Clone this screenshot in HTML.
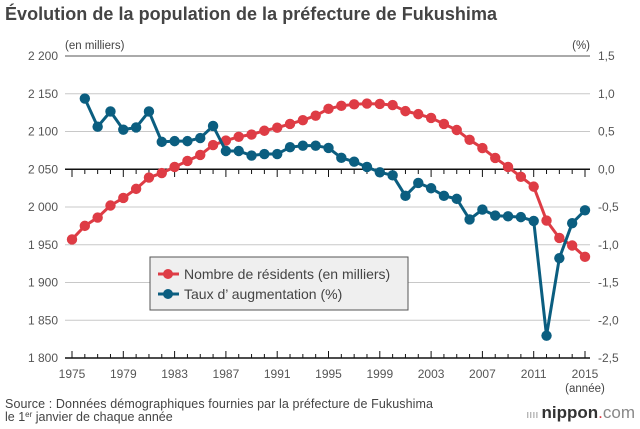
<!DOCTYPE html>
<html><head><meta charset="utf-8"><style>
body{margin:0;background:#fff;width:640px;height:424px;overflow:hidden;font-family:"Liberation Sans",sans-serif}
</style></head><body>
<svg width="640" height="424" style="font-family:'Liberation Sans',sans-serif">
<text x="5" y="20" font-size="18" font-weight="bold" fill="#444" textLength="492">Évolution de la population de la préfecture de Fukushima</text>
<g id="grid"></g><g id="series"></g>
<text x="65" y="49" font-size="11.5" fill="#444">(en milliers)</text>
<text x="590" y="49" font-size="11.5" fill="#444" text-anchor="end">(%)</text>
<text x="585" y="392" font-size="11.5" fill="#444" text-anchor="middle">(année)</text>
<g>
<rect x="150" y="257" width="258" height="53" fill="#efefef" stroke="#555" stroke-width="1"/>
<line x1="158" y1="274" x2="179" y2="274" stroke="#de3c45" stroke-width="3"/><circle cx="168" cy="274" r="5" fill="#de3c45"/>
<text x="184" y="279" font-size="14" fill="#444">Nombre de résidents (en milliers)</text>
<line x1="158" y1="294" x2="179" y2="294" stroke="#0b5e80" stroke-width="3"/><circle cx="168" cy="294" r="5" fill="#0b5e80"/>
<text x="184" y="299" font-size="14" fill="#444">Taux d’  augmentation (%)</text>
</g>
<text x="5" y="408" font-size="12.5" fill="#444" textLength="428">Source : Données démographiques fournies par la préfecture de Fukushima</text>
<text x="5" y="421" font-size="12.5" fill="#444">le 1<tspan font-size="8" dy="-4">er</tspan><tspan dy="4"> janvier de chaque année</tspan></text>
<text x="635" y="418" font-size="17" fill="#333" text-anchor="end"><tspan fill="#999" font-size="11">ıııı </tspan><tspan font-weight="bold">nippon</tspan><tspan fill="#de3c45">.</tspan><tspan fill="#888">com</tspan></text>
</svg>
<script>
const years=[];for(let y=1975;y<=2015;y++)years.push(y);
const residents=[1957,1975,1986,2002,2012,2024,2039,2045,2053,2061,2069,2082,2088,2093,2096,2101,2105,2110,2115,2121,2130,2134,2136,2137,2136.5,2135,2127,2123,2118,2110,2102,2089,2078,2065,2053,2040,2027,1982,1959,1949,1934];
const rateYears=years.slice(1);
const rates=[0.94,0.57,0.77,0.53,0.56,0.77,0.37,0.38,0.38,0.42,0.58,0.25,0.25,0.19,0.21,0.21,0.30,0.32,0.32,0.29,0.16,0.11,0.04,-0.03,-0.07,-0.34,-0.17,-0.24,-0.34,-0.38,-0.65,-0.52,-0.60,-0.61,-0.62,-0.67,-2.18,-1.16,-0.70,-0.53];
const leftTicks=[1800,1850,1900,1950,2000,2050,2100,2150,2200];
const leftLabels=["1 800","1 850","1 900","1 950","2 000","2 050","2 100","2 150","2 200"];
const rightLabels=["-2,5","-2,0","-1,5","-1,0","-0,5","0,0","0,5","1,0","1,5"];
const xLabels=[1975,1979,1983,1987,1991,1995,1999,2003,2007,2011,2015];
const X=y=>72+(y-1975)*(513/40);
const YL=v=>358-(v-1800)*(302/400);
const YR=v=>170-v*(114/1.5);
const NS="http://www.w3.org/2000/svg";
function mk(p,t,a){const e=document.createElementNS(NS,t);for(const k in a)e.setAttribute(k,a[k]);p.appendChild(e);return e;}
const g=document.getElementById('grid'),s=document.getElementById('series');
leftTicks.forEach((v,i)=>{const y=YL(v);
 const l=mk(g,'line',{x1:65,x2:590,y1:y,y2:y,stroke:(v==1800||v==2050)?'#111':(v==2200?'#555':'#c8c8c8'),'stroke-width':(v==1800||v==2050)?1.5:1});
 
 
 const t=mk(g,'text',{x:58,y:y+4,'font-size':12,fill:'#555','text-anchor':'end'});t.textContent=leftLabels[i];
 
 
 const r=mk(g,'text',{x:598,y:y+4,'font-size':12,fill:'#555'});r.textContent=rightLabels[i];
 
 
});
years.forEach(yr=>{const x=X(yr),maj=(yr-1975)%4==0;
 mk(g,'line',{x1:x,x2:x,y1:358,y2:maj?351:354,stroke:'#111'});
 mk(g,'line',{x1:x,x2:x,y1:170,y2:maj?177:174,stroke:'#111'});
});
xLabels.forEach(yr=>{const t=mk(g,'text',{x:X(yr),y:378,'font-size':12,fill:'#555','text-anchor':'middle'});t.textContent=yr;
 
 });
function series(xs,vs,yf,col,name){
 const pl=mk(s,'polyline',{points:xs.map((x,i)=>X(x)+','+yf(vs[i])).join(' '),fill:'none',stroke:col,'stroke-width':3,'stroke-linejoin':'round'});
 
 
 xs.forEach((x,i)=>{const c=mk(s,'circle',{cx:X(x),cy:yf(vs[i]),r:5.2,fill:col});
  
  });
}
series(years,residents,YL,'#de3c45','residents');
series(rateYears,rates,YR,'#0b5e80','rate');
</script>
</body></html>
